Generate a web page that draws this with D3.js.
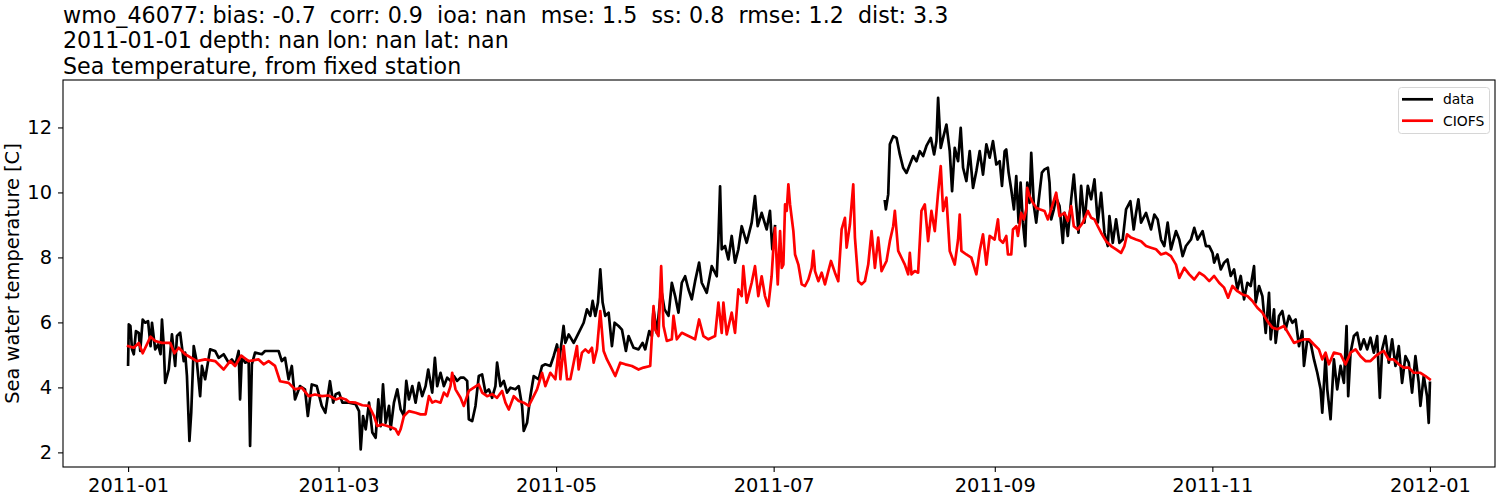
<!DOCTYPE html>
<html><head><meta charset="utf-8">
<script src="https://cdn.jsdelivr.net/npm/d3@7"></script>
<style>body{margin:0;background:#fff} svg text{font-family:"DejaVu Sans",sans-serif}</style>
</head><body><svg id="c" width="1500" height="500"></svg>
<script>
const titleLines = [
  "wmo_46077: bias: -0.7  corr: 0.9  ioa: nan  mse: 1.5  ss: 0.8  rmse: 1.2  dist: 3.3",
  "2011-01-01 depth: nan lon: nan lat: nan",
  "Sea temperature, from fixed station"
];
const yLabel = "Sea water temperature [C]";
const seriesNames = ["data", "CIOFS"];
const seriesColors = ["#000000", "#ff0000"];
const startDate = "2011-01-01";
const endDate = "2012-01-01";
const xTickLabels = ["2011-01-01","2011-03-01","2011-05-01","2011-07-01","2011-09-01","2011-11-01","2012-01-01"];
const yTicks = [2, 4, 6, 8, 10, 12];

// [days since 2011-01-01, temperature C]; null = gap in observations
const dataSeries = [
[0,4.7],[0.2,5.94],[0.65,5.89],[1.1,5.17],[1.6,5.02],[2.2,5.73],[3,5.68],[3.4,5.12],[4.1,6.09],[4.8,5.99],[5.6,6.04],[6.3,5.27],[6.7,5.99],[7.6,5.17],[8.4,5.32],[9.1,5.02],[9.5,6.09],[10,5.27],[10.4,4.14],[11.4,4.55],[12.3,5.63],[13.2,4.66],[13.7,5.58],[14.6,5.68],[15.6,4.81],[16,5.07],[16.5,4.35],[17.2,2.35],[17.7,3.22],[18.4,5.27],[19.3,4.76],[20.2,3.73],[20.7,4.66],[21.6,4.25],[23,5.17],[24.4,5.12],[25.4,4.91],[26.8,5.02],[28.2,4.76],[29.1,4.86],[30.1,4.71],[31,5.12],[31.4,3.63],[31.9,4.96],[32.8,4.76],[33.8,4.81],[34.2,2.2],[34.7,4.71],[35.6,5.07],[37.5,5.02],[38.4,5.12],[40.3,5.12],[42.2,5.12],[43.1,4.81],[44,4.91],[45,4.25],[45.9,4.66],[46.8,3.63],[48.2,4.04],[49.6,3.94],[50.4,3.12],[51.5,4.09],[52.9,4.04],[54.3,3.43],[55.3,3.22],[56.6,4.19],[57.5,3.53],
[58.22,3.79],[59.15,3.84],[60.09,3.53],[61.95,3.53],[63.82,3.48],[64.75,3.27],[65.22,2.09],[65.87,3.12],[66.62,2.71],[67.55,3.53],[68.48,2.61],[69.41,2.45],[70.16,3.63],[70.81,2.81],[71.47,4.09],[72.21,2.91],[73.15,3.43],[73.61,2.71],[74.54,3.53],[75.48,3.94],[76.41,3.32],[77.34,3.12],[78,4.2],[78.74,3.63],[79.68,4.04],[80.61,3.53],[81.54,4.14],[82.47,3.73],[83.41,4.04],[84.15,4.55],[85.27,3.84],[86.02,4.91],[86.67,4.04],[87.6,4.45],[88.54,4.04],[89.47,4.3],[90.4,4.2],[91.34,4.35],[92.27,4.2],[93.2,4.3],[94.13,4.3],[95.07,4.2],[95.53,3.02],[96.47,2.96],[97.4,3.43],[98.33,4.35],[99.26,4.4],[100.2,3.84],[101.13,3.94],[102.06,3.68],[102.99,4.04],[103.46,4.76],[104.4,4.04],[105.33,4.2],[106.26,3.84],[107.19,3.99],[108.59,3.94],[109.53,4.04],[110.46,3.43],[110.93,2.66],[111.86,2.91],[112.79,3.73],[113.73,4.35],[115.12,4.25],[116.06,4.66],[116.99,4.71],[118.39,4.66],[119.32,4.96],[120.25,5.32],[120.91,4.86],[121.65,5.48],[122.1,5.89],
[122.6,5.37],[123.53,5.63],[124.93,5.37],[126.33,5.68],[127.73,5.99],[128.66,6.4],[129.59,6.2],[130.25,6.66],[130.99,6.2],[131.74,6.61],[132.39,7.63],[133.05,6.61],[133.79,6.2],[134.73,6.3],[135.66,5.27],[136.41,5.99],[137.52,5.89],[138.46,5.78],[139.58,5.12],[140.32,5.58],[141.72,5.22],[143.12,5.17],[144.24,5.37],[144.99,5.17],[146.11,5.73],[146.85,5.58],[147.32,6.4],[148.25,5.68],[149.46,7.02],[150.4,6.4],[151.52,6.2],[152.45,7.22],[153.38,6.81],[154.31,6.3],[155.25,7.22],[156.18,7.42],[157.11,7.02],[158.05,6.71],[158.98,7.27],[160.1,7.84],[160.84,7.22],[162.24,6.91],[163.64,7.73],[165.04,7.42],[165.51,8.55],[165.98,10.19],[166.44,8.25],[167.37,8.35],[168.31,7.94],[169.24,8.66],[170.17,7.84],[171.11,8.25],[172.04,8.96],[173.44,8.45],[174.84,9.07],[175.77,9.89],[176.52,8.96],[177.64,9.37],[179.04,8.86],[179.97,9.43],[180.62,8.25],[181.37,8.96],
[196,null],
[212.18,9.73],[212.46,9.48],[213.12,9.94],[213.58,11.48],[214.52,11.73],[215.45,11.68],[216.38,11.17],[217.31,10.76],[218.25,10.6],[219.18,10.86],[220.11,11.12],[221.05,10.96],[221.98,11.27],[222.91,11.12],[223.84,11.43],[225.06,11.68],[225.99,11.17],[226.64,11.58],[227.11,12.91],[227.85,11.37],[228.51,11.68],[229.44,12.09],[230.37,11.27],[231.03,10.04],[231.77,11.37],[232.71,10.96],[233.45,11.99],[234.11,10.76],[235.04,10.35],[235.97,11.27],[236.9,10.14],[237.84,10.66],[238.77,11.27],[239.7,10.55],[240.64,11.48],[241.57,11.07],[242.5,11.58],[243.43,10.86],[244.37,10.96],[245.02,10.2],[245.77,11.27],
[246.22,11.32],[246.88,10.61],[247.62,10.09],[248.37,9.48],[249.02,10.5],[249.68,9.07],[250.24,10.3],[250.89,9.07],[251.54,8.35],[252.1,10.3],[252.75,9.68],[253.22,11.22],[253.97,9.58],[254.62,9.07],[255.55,9.99],[256.21,10.61],[256.95,10.71],[257.89,10.76],[258.35,10.3],[258.82,9.17],[259.56,9.48],[260.22,9.84],[261.15,9.58],[262.08,8.45],[262.55,9.37],[263.48,8.66],[264.42,9.79],[265.16,10.55],[265.81,9.68],[266.47,8.76],[267.21,10.2],[268.15,9.07],[269.08,10.2],[270.01,9.79],[270.95,10.4],[271.88,9.07],[272.81,9.99],[273.74,8.76],[274.68,8.35],[275.14,9.27],[276.08,8.45],[277.01,9.17],[277.94,8.45],[278.87,8.55],[279.81,9.48],[281.02,9.73],[281.95,8.86],[282.61,9.37],[283.26,9.79],[284.01,9.07],[285.41,9.37],[286.8,8.86],[287.74,9.32],[288.67,9.17],[289.6,8.55],[290.53,8.35],[291.47,9.07],[292.4,8.25],[293.8,8.81],[294.73,8.55],[295.67,8.04],[296.6,8.35],[298,8.55],[298.93,8.91],[299.86,8.55],[301.26,8.81],[302.2,8.35],[303.13,8.35],[304.06,8.14],
[304.5,7.84],[305.43,8.09],[306.37,7.63],[307.3,7.84],[308.23,7.94],[309.16,7.43],[310.1,7.63],[311.03,7.02],[311.96,7.43],[312.9,6.71],[313.83,7.22],[314.76,7.12],[315.69,7.73],[316.16,6.61],[317.09,7.12],[318.03,6.81],[318.96,5.68],[319.89,6.91],[320.36,5.48],[321.29,6.4],[321.76,5.37],[322.69,6.2],[323.62,6.35],[324.56,5.78],[325.49,6.2],[326.42,5.99],[327.35,6.09],[328.29,5.27],[329.22,5.73],[329.69,4.66],[330.62,5.48],[331.55,5.37],[332.49,4.86],[333.42,4.45],[334.35,3.94],[334.82,3.22],[335.75,4.96],[336.22,3.94],[337.15,3.02],[338.08,4.86],[339.01,3.94],[339.95,4.66],[340.88,4.14],[341.63,5.89],[342.09,3.73],[342.75,5.07],[343.68,5.58],[344.61,5.68],[345.54,5.17],[346.48,5.48],[347.41,5.17],[348.34,5.53],[349.28,5.07],[350.21,5.58],[350.96,3.68],[351.61,5.17],[352.54,5.58],[353.47,4.76],[354.41,5.48],[355.34,4.66],[356.27,5.27],[357.2,4.14],[358.14,4.96],[359.07,4.76],[360,3.84],[360.94,4.96],[361.87,4.14],[362.34,3.43],[363.27,4.35],[364.2,3.73],[364.67,2.91],[365.0,4.14]
];

const modelSeries = [
[0,5.27],[1.6,5.22],[3,5.37],[4.1,5.05],[6.3,5.56],[7.6,5.43],[9.5,5.37],[11.8,5.37],[13,5.05],[14.2,5.22],[16,5.02],[19.3,4.81],[21.6,4.86],[24.4,4.81],[26.8,4.55],[28.6,4.81],[30,4.66],[31.7,4.98],[33.8,4.81],[36.6,4.86],[38,4.71],[39.4,4.81],[41.2,4.66],[42.6,4.19],[45,4.14],[46.8,3.94],[48.7,3.99],[50.6,3.73],[52.4,3.78],[54.3,3.73],[56.2,3.75],
[58.22,3.63],[59.62,3.68],[61.02,3.63],[61.95,3.55],[63.82,3.53],[65.68,3.45],[67.55,3.43],[68.95,3.12],[69.88,2.81],[71.28,2.86],[72.68,2.81],[74.08,2.76],[75.01,2.71],[75.76,2.55],[76.41,2.71],[77.34,3.12],[78.74,3.27],[80.61,3.22],[82.01,3.17],[83.41,3.17],[84.34,3.73],[85.27,3.53],[86.2,3.58],[87.6,3.53],[88.54,3.84],[89.47,3.73],[90.4,4.04],[90.87,4.45],[91.8,3.94],[93.2,3.68],[94.13,3.43],[95.53,3.89],[96.93,3.99],[98.33,4.09],[99.26,3.84],[100.66,3.73],[102.06,3.79],[103.46,3.68],[104.86,3.89],[105.8,3.53],[106.73,3.32],[108.13,3.73],[109.53,3.58],[110.93,3.53],[112.33,3.43],[113.26,3.63],[114.66,3.94],[116.06,4.45],[117,4.04],[118.39,4.45],
[119.8,4.25],[120.73,5.17],[121.2,4.25],[122.13,5.27],[123.07,4.25],[124,4.25],[124.93,4.76],[125.86,5.27],[126.33,4.55],[127.26,5.07],[128.2,5.17],[129.13,5.07],[130.06,5.22],[130.53,4.76],[131.46,5.17],[132.39,6.35],[133.33,5.12],[134.26,4.86],[135.19,4.66],[136.59,4.35],[137.99,4.76],[139.39,4.71],[141.26,4.66],[143.12,4.55],[144.52,4.61],[146.39,4.66],[147.32,6.5],[147.79,5.78],[148.72,5.58],[149.46,7.73],[150.12,5.89],[151.05,5.43],[152.45,5.48],[152.92,6.2],[153.85,5.48],[155.25,5.68],[157.11,5.58],[158.98,5.48],[160.1,6.09],[161.31,5.58],[162.71,5.48],[164.58,5.58],[165.51,6.61],[166.44,5.68],[166.91,6.61],[167.84,5.63],[169.24,6.3],[170.17,5.68],[171.11,7.02],[172.04,6.81],[172.5,7.73],[173.44,6.61],[174.84,7.22],[175.77,7.73],[176.7,6.81],[177.64,7.42],[178.57,6.81],[179.5,6.5],[180.43,7.42],[180.9,8.25],
[181.4,8.91],[182.15,7.17],[182.8,8.81],[183.27,7.68],[183.73,7.78],[184.2,9.63],[184.66,9.43],[185.13,10.25],[185.6,9.63],[186.06,9.22],[186.53,8.81],[187,8.09],[187.93,7.78],[188.86,7.17],[189.8,7.12],[190.73,7.32],[191.66,7.68],[192.13,8.2],[192.59,7.58],[193.53,7.27],[194.46,7.53],[195.39,7.17],[196.33,7.58],[197.07,7.89],[198.19,7.53],[199.12,7.27],[200.06,8.86],[200.99,9.22],[201.46,8.3],[202.39,9.02],[203.32,10.25],[203.79,8.61],[204.72,7.27],[205.65,7.17],[206.59,7.27],[207.52,7.78],[208.45,8.81],[209.39,7.68],[210.32,8.61],[211.25,7.58],[212.65,7.89],[213.58,8.5],[214.52,8.96],[214.98,9.43],[215.92,8.2],[216.85,7.99],[217.78,7.78],[218.71,7.48],[219.18,8.14],[219.65,7.48],[220.58,7.58],[221.51,7.53],[222.44,9.43],[223.38,9.63],[224.31,8.5],[225.24,9.43],[226.18,8.81],[227.11,9.99],[227.85,10.81],[228.51,9.43],[229.44,9.84],[230.37,8.2],[231.77,7.78],[232.71,8.55],[233.17,9.32],[233.64,8.2],[235.04,8.09],[236.44,7.99],[237.84,7.48],[238.77,8.2],[239.7,8.71],[240.64,7.78],[241.57,8.66],
[242.96,8.55],[243.89,9.17],[244.36,8.55],[245.29,8.45],[246.22,8.66],[246.69,8.09],[247.62,8.09],[248.09,8.86],[249.02,8.96],[249.49,8.66],[250.42,9.37],[251.17,9.17],[251.82,9.48],[252.1,10.14],[252.75,9.89],[253.69,9.68],[254.62,9.53],[255.55,9.48],[256.95,9.43],[257.89,9.17],[258.82,9.48],[260.22,9.99],[261.15,9.27],[262.55,9.37],[263.48,9.12],[264.42,9.58],[265.16,8.96],[266.28,8.86],[267.68,9.07],[269.08,9.43],[270.01,9.22],[270.95,9.17],[271.88,8.96],[272.81,8.76],[274.21,8.5],[275.61,8.35],[277.01,8.25],[278.41,8.14],[279.34,8.35],[280.09,8.71],[281.21,8.61],[282.61,8.55],[284.01,8.5],[285.41,8.35],[286.8,8.3],[288.2,8.25],[289.6,8.09],[291,8.14],[292.4,8.04],[293.8,7.78],[294.73,7.37],[296.13,7.68],[297.53,7.48],[298.93,7.32],[300.33,7.53],[301.73,7.43],[303.13,7.27],
[304.5,7.43],[305.9,7.22],[307.3,7.07],[308.42,6.76],[309.63,7.12],[311.03,6.96],[312.43,6.86],[313.83,6.81],[315.23,6.66],[316.63,6.45],[318.03,6.3],[319.43,6.04],[320.82,5.84],[322.22,5.79],[324.09,5.89],[325.49,5.63],[326.89,5.37],[328.29,5.43],[329.69,5.48],[331.09,5.48],[332.49,5.32],[333.88,5.17],[334.82,4.86],[335.75,5.07],[336.68,4.71],[338.08,5.07],[339.95,5.02],[341.35,4.71],[342.75,5.07],[344.15,5.17],[345.54,4.96],[346.94,4.81],[348.34,4.81],[349.74,4.96],[351.14,5.07],[352.07,5.12],[353.47,4.86],[354.87,4.86],[356.27,4.71],[357.67,4.61],[359.07,4.61],[360.47,4.45],[362.34,4.45],[363.74,4.35],[364.95,4.25]
];

const svg = d3.select("#c");
const W = 1500, H = 500;
const m = {left: 63, right: 1495, top: 80, bottom: 467};
const DAY = 864e5;
const t0 = new Date(startDate + "T00:00:00Z");
const t1 = new Date(endDate + "T00:00:00Z");
const span = t1 - t0;
const toDate = d => new Date(t0.getTime() + d * DAY);

const x = d3.scaleUtc()
  .domain([new Date(t0.getTime() - span * 0.05), new Date(t1.getTime() + span * 0.05)])
  .range([m.left, m.right]);
const y = d3.scaleLinear().domain([1.55, 13.46]).range([m.bottom, m.top]);

svg.append("rect").attr("width", W).attr("height", H).attr("fill", "#fff");

const line = d3.line()
  .defined(d => d[1] != null)
  .x(d => x(toDate(d[0])))
  .y(d => y(d[1]));

const plot = svg.append("g");
[dataSeries, modelSeries].forEach((s, i) => {
  plot.append("path").datum(s)
    .attr("d", line)
    .attr("fill", "none")
    .attr("stroke", seriesColors[i])
    .attr("stroke-width", 2.7)
    .attr("stroke-linejoin", "round")
    .attr("stroke-linecap", "square");
});

// axes
const xAxis = d3.axisBottom(x)
  .tickValues(xTickLabels.map(s => new Date(s + "T00:00:00Z")))
  .tickFormat(d3.utcFormat("%Y-%m"))
  .tickSize(5).tickPadding(6);
const gx = svg.append("g").attr("transform", `translate(0,${m.bottom})`).call(xAxis);
const yAxis = d3.axisLeft(y).tickValues(yTicks).tickFormat(d3.format("d")).tickSize(5).tickPadding(6);
const gy = svg.append("g").attr("transform", `translate(${m.left},0)`).call(yAxis);
[gx, gy].forEach(g => {
  g.select(".domain").remove();
  g.selectAll(".tick line").attr("stroke", "#000").attr("stroke-width", 1.1);
  g.selectAll(".tick text").attr("fill", "#000")
    .style("font-family", '"DejaVu Sans", sans-serif').style("font-size", "19.4px");
});

// frame
svg.append("rect")
  .attr("x", m.left).attr("y", m.top)
  .attr("width", m.right - m.left).attr("height", m.bottom - m.top)
  .attr("fill", "none").attr("stroke", "#000").attr("stroke-width", 1.1);

// y label
svg.append("text")
  .attr("transform", `translate(19,${(m.top + m.bottom) / 2}) rotate(-90)`)
  .attr("text-anchor", "middle")
  .style("font-size", "19.4px")
  .text(yLabel);

// titles
titleLines.forEach((t, i) => {
  svg.append("text")
    .attr("x", m.left).attr("y", 22.7 + i * 25.7)
    .style("font-size", "22.2px")
    .style("white-space", "pre")
    .text(t);
});

// legend
const lg = svg.append("g");
lg.append("rect").attr("x", 1398.5).attr("y", 87.5).attr("width", 91).attr("height", 46).attr("rx", 3)
  .attr("fill", "#fff").attr("fill-opacity", 0.8).attr("stroke", "#d6d6d6").attr("stroke-width", 1);
seriesNames.forEach((n, i) => {
  const yy = 99.3 + i * 21.4;
  lg.append("line").attr("x1", 1402).attr("x2", 1433).attr("y1", yy).attr("y2", yy)
    .attr("stroke", seriesColors[i]).attr("stroke-width", 2.7);
  lg.append("text").attr("x", 1443).attr("y", yy + 5).style("font-size", "13.9px").text(n);
});
</script></body></html>
